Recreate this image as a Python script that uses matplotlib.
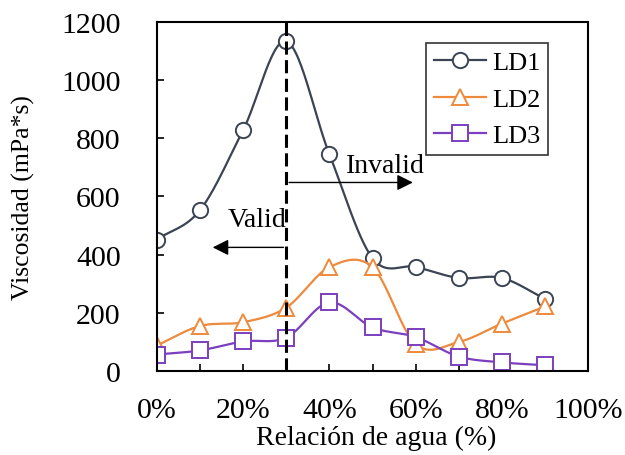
import numpy as np
import matplotlib
matplotlib.use("Agg")
import matplotlib.pyplot as plt

# water ratio (%) and viscosity (mPa*s)
water = [0, 10, 20, 30, 40, 50, 60, 70, 80, 90]
ld1 = [452, 553, 828, 1133, 745, 388, 358, 320, 320, 248]
ld2 = [88, 155, 168, 218, 357, 357, 93, 100, 163, 222]
ld3 = [57, 71, 102, 115, 236, 150, 117, 50, 30, 20]

colors = ["#3b4454", "#ee8a3c", "#7b3fbf"]
markers = ["o", "^", "s"]
names = ["LD1", "LD2", "LD3"]

plt.rcParams["font.family"] = ["Liberation Serif", "DejaVu Serif"]


# smooth line like spreadsheet "smoothed line" (Catmull-Rom)
def smooth(x, y, n=30):
    x = np.asarray(x, float)
    y = np.asarray(y, float)
    px = np.concatenate([[2 * x[0] - x[1]], x, [2 * x[-1] - x[-2]]])
    py = np.concatenate([[2 * y[0] - y[1]], y, [2 * y[-1] - y[-2]]])
    xs, ys = [], []
    t = np.linspace(0, 1, n)
    for i in range(1, len(px) - 2):
        for p, out in ((px, xs), (py, ys)):
            p0, p1, p2, p3 = p[i - 1], p[i], p[i + 1], p[i + 2]
            out.extend(0.5 * ((2 * p1) + (-p0 + p2) * t
                              + (2 * p0 - 5 * p1 + 4 * p2 - p3) * t ** 2
                              + (-p0 + 3 * p1 - 3 * p2 + p3) * t ** 3))
    return xs, ys


fig = plt.figure(figsize=(6.25, 4.56), dpi=100)
ax = fig.add_axes([0.251, 0.184, 0.690, 0.766])

for vals, c, m, name in zip([ld1, ld2, ld3], colors, markers, names):
    sx, sy = smooth(water, vals)
    ax.plot(sx, sy, color=c, lw=1.6)
    ax.plot(water, vals, ls="none", marker=m, ms=11, mfc="white",
            mec=c, mew=1.4)
    ax.plot([], [], color=c, lw=1.6, marker=m, ms=11, mfc="white",
            mec=c, mew=1.4, label=name)

ax.plot([30, 30], [0, 1200], color="black", lw=2.2, ls=(0, (4.3, 1.8)))

ax.annotate("", xy=(12.3, 425), xytext=(30, 425),
            arrowprops=dict(arrowstyle="-|>", color="black", lw=1,
                            mutation_scale=24))
ax.annotate("", xy=(60, 648), xytext=(30, 648),
            arrowprops=dict(arrowstyle="-|>", color="black", lw=1,
                            mutation_scale=24))
ax.text(23.3, 520, "Valid", ha="center", va="center", fontsize=20)
ax.text(53, 705, "Invalid", ha="center", va="center", fontsize=20)

ax.set_xlim(0, 100)
ax.set_ylim(0, 1200)
ax.set_xticks(np.arange(0, 101, 10))
ax.set_xticklabels([f"{v}%" if v % 20 == 0 else "" for v in range(0, 101, 10)])
ax.set_yticks(range(0, 1201, 200))
ax.tick_params(direction="in", labelsize=21.5, length=5, width=1.2)
ax.tick_params(axis="x", pad=19)
ax.tick_params(axis="y", pad=26)
for s in ax.spines.values():
    s.set_linewidth(1.5)

ax.set_xlabel("Relación de agua (%)", fontsize=20, va="center")
ax.xaxis.set_label_coords(0.508, -0.19)
ax.set_ylabel("Viscosidad (mPa*s)", fontsize=18.5, va="center")
ax.yaxis.set_label_coords(-0.309, 0.5)

leg = ax.legend(loc="upper right", bbox_to_anchor=(0.907, 0.94),
                fontsize=19, frameon=True, fancybox=False, handlelength=2,
                handletextpad=0.2, borderpad=0.3, labelspacing=0.5,
                borderaxespad=0)
leg.get_frame().set_edgecolor("black")
leg.get_frame().set_linewidth(1.2)

plt.savefig("out.png", dpi=100)
